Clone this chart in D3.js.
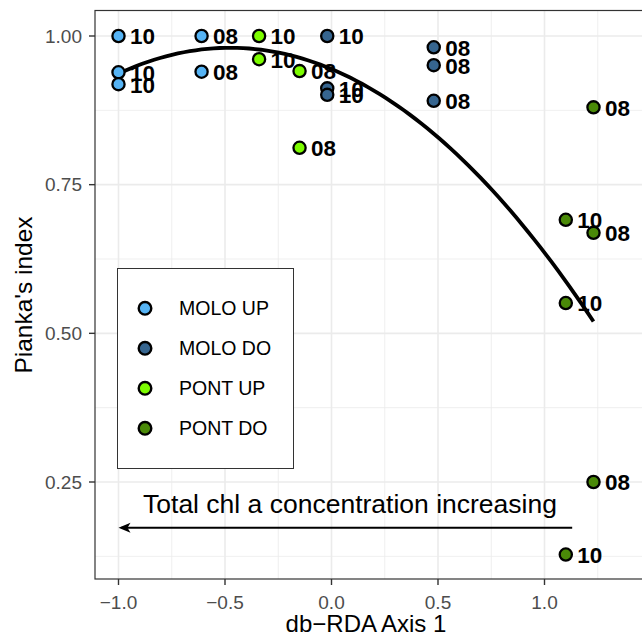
<!DOCTYPE html>
<html><head><meta charset="utf-8">
<script src="https://cdn.jsdelivr.net/npm/d3@7"></script>
<style>body{margin:0;background:#fff}svg{display:block}</style>
</head><body>
<svg id="c" width="642" height="638"></svg>
<script>
// ---- data ----
const groups = ["MOLO UP", "MOLO DO", "PONT UP", "PONT DO"];
const groupColors = ["#56B4F5", "#36658F", "#7CFC00", "#4A8A08"];
const xVals   = [-1.00,-1.00,-1.00,-0.61,-0.61,  -0.02,-0.02,-0.02,0.48,0.48,0.48,  -0.34,-0.34,-0.15,-0.15,  1.23,1.10,1.23,1.10,1.23,1.10];
const yVals   = [1.000,0.939,0.919,1.000,0.940,  1.000,0.912,0.901,0.981,0.951,0.891,  1.000,0.961,0.941,0.812,  0.880,0.691,0.669,0.551,0.250,0.128];
const labels  = ["10","10","10","08","08",  "10","10","10","08","08","08",  "10","10","08","08",  "08","10","08","10","08","10"];
const groupOf = [0,0,0,0,0, 1,1,1,1,1,1, 2,2,2,2, 3,3,3,3,3,3];
const xTicks = [-1.0,-0.5,0.0,0.5,1.0];
const yTicks = [0.25,0.50,0.75,1.00];
const xMinor = [-0.75,-0.25,0.25,0.75,1.25];
const yMinor = [0.125,0.375,0.625,0.875];
const annotText = "Total chl a concentration increasing";
const arrowFrom = [1.13, 0.173], arrowTo = [-1.0, 0.173];

const FONT = "Liberation Sans, Arial, sans-serif";
const svg = d3.select("#c");
const L = 95, T = 10.5, R = 700, B = 579;
const x = d3.scaleLinear().domain([-1, 1]).range([118.5, 544.5]);
const y = d3.scaleLinear().domain([0.25, 1.0]).range([482, 36]);

// grid
const g = svg.append("g");
g.selectAll(".mx").data(xMinor).join("line").attr("x1",d=>x(d)).attr("x2",d=>x(d)).attr("y1",T).attr("y2",B).attr("stroke","#EBEBEB").attr("stroke-width",0.8);
g.selectAll(".my").data(yMinor).join("line").attr("y1",d=>y(d)).attr("y2",d=>y(d)).attr("x1",L).attr("x2",R).attr("stroke","#EBEBEB").attr("stroke-width",0.8);
g.selectAll(".Mx").data(xTicks).join("line").attr("x1",d=>x(d)).attr("x2",d=>x(d)).attr("y1",T).attr("y2",B).attr("stroke","#EBEBEB").attr("stroke-width",1.6);
g.selectAll(".My").data(yTicks).join("line").attr("y1",d=>y(d)).attr("y2",d=>y(d)).attr("x1",L).attr("x2",R).attr("stroke","#EBEBEB").attr("stroke-width",1.6);

// quadratic least-squares fit (like geom_smooth y ~ poly(x,2))
const n = xVals.length;
let S = [0,0,0,0,0], Sy = [0,0,0];
for (let i=0;i<n;i++){ const xi=xVals[i], yi=yVals[i];
  for (let k=0;k<5;k++) S[k]+=Math.pow(xi,k);
  for (let k=0;k<3;k++) Sy[k]+=Math.pow(xi,k)*yi; }
function solve3(A,b){ A=A.map((r,i)=>[...r,b[i]]);
  for(let i=0;i<3;i++){ let p=i; for(let j=i+1;j<3;j++) if(Math.abs(A[j][i])>Math.abs(A[p][i])) p=j; [A[i],A[p]]=[A[p],A[i]];
    for(let j=0;j<3;j++) if(j!==i){ const f=A[j][i]/A[i][i]; for(let k=i;k<4;k++) A[j][k]-=f*A[i][k]; } }
  return A.map((r,i)=>r[3]/r[i]); }
const coef = solve3([[S[0],S[1],S[2]],[S[1],S[2],S[3]],[S[2],S[3],S[4]]], Sy);
const xmin = d3.min(xVals), xmax = d3.max(xVals);
const curve = d3.range(0,81).map(i=>{ const xx = xmin+(xmax-xmin)*i/80; return [xx, coef[0]+coef[1]*xx+coef[2]*xx*xx]; });
svg.append("path").datum(curve).attr("d", d3.line().x(d=>x(d[0])).y(d=>y(d[1]))).attr("fill","none").attr("stroke","#000").attr("stroke-width",3.8);

// annotation
svg.append("text").attr("x", 350).attr("y", 513).attr("text-anchor","middle").attr("font-family",FONT).attr("font-size",26.5).attr("fill","#000").text(annotText);
svg.append("line").attr("x1",x(arrowFrom[0])).attr("y1",y(arrowFrom[1])).attr("x2",x(arrowTo[0])+3).attr("y2",y(arrowTo[1])).attr("stroke","#000").attr("stroke-width",2);
svg.append("path").attr("d",`M${x(arrowTo[0])},${y(arrowTo[1])} l12,-5 l-3,5 l3,5 z`).attr("fill","#000");

// points
const idx = d3.range(n);
svg.selectAll(".pt").data(idx).join("circle").attr("cx",i=>x(xVals[i])).attr("cy",i=>y(yVals[i])).attr("r",6.1)
  .attr("fill",i=>groupColors[groupOf[i]]).attr("stroke","#000").attr("stroke-width",2.3);
svg.selectAll(".lb").data(idx).join("text").attr("x",i=>x(xVals[i])+11.5).attr("y",i=>y(yVals[i])+8.4)
  .attr("font-family",FONT).attr("font-weight","bold").attr("font-size",22.5).attr("fill","#000").text(i=>labels[i]);

// panel border
svg.append("rect").attr("x",L).attr("y",T).attr("width",R-L).attr("height",B-T).attr("fill","none").attr("stroke","#333").attr("stroke-width",1.2);

// axes
const ax = svg.append("g").attr("font-family",FONT);
ax.selectAll(".xt").data(xTicks).join("line").attr("x1",d=>x(d)).attr("x2",d=>x(d)).attr("y1",B).attr("y2",B+6).attr("stroke","#333").attr("stroke-width",1.4);
ax.selectAll(".xl").data(xTicks).join("text").attr("x",d=>x(d)).attr("y",608.5).attr("text-anchor","middle").attr("font-size",19).attr("fill","#4D4D4D").text(d=>d3.format(".1f")(d).replace("-","\u2212"));
ax.selectAll(".yt").data(yTicks).join("line").attr("y1",d=>y(d)).attr("y2",d=>y(d)).attr("x1",L-6).attr("x2",L).attr("stroke","#333").attr("stroke-width",1.4);
ax.selectAll(".yl").data(yTicks).join("text").attr("x",82).attr("y",d=>y(d)+6.5).attr("text-anchor","end").attr("font-size",19).attr("fill","#4D4D4D").text(d=>d3.format(".2f")(d));
ax.append("text").attr("x",366).attr("y",632).attr("text-anchor","middle").attr("font-size",24).attr("fill","#000").text("db\u2212RDA Axis 1");
ax.append("text").attr("transform","translate(32,295) rotate(-90)").attr("text-anchor","middle").attr("font-size",24.5).attr("fill","#000").text("Pianka's index");

// legend
const lg = svg.append("g").attr("font-family",FONT);
lg.append("rect").attr("x",117.5).attr("y",268.5).attr("width",176).attr("height",200).attr("fill","#fff").attr("stroke","#333").attr("stroke-width",1);
groups.forEach((name,i)=>{
  const cy = 308.3 + i*40;
  lg.append("circle").attr("cx",145).attr("cy",cy).attr("r",6.3).attr("fill",groupColors[i]).attr("stroke","#000").attr("stroke-width",2.4);
  lg.append("text").attr("x",179).attr("y",cy+6.8).attr("font-size",19.5).attr("fill","#000").text(name);
});
</script>
</body></html>
